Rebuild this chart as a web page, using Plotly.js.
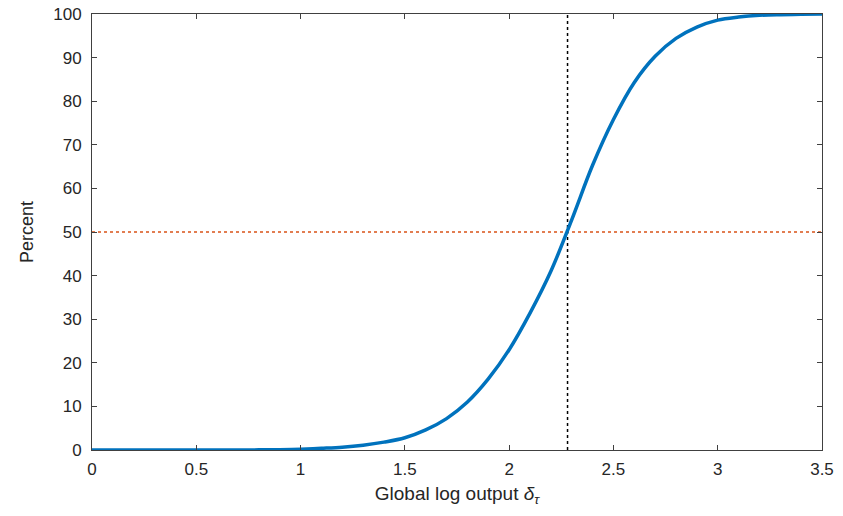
<!DOCTYPE html>
<html>
<head>
<meta charset="utf-8">
<script src="https://cdn.plot.ly/plotly-3.0.1.min.js"></script>
<style>html,body{margin:0;padding:0;background:#fff;}#chart{width:843px;height:516px;}</style>
</head>
<body>
<div id="chart"></div>
<script>
// Data
const xValues = [0, 0.1, 0.2, 0.3, 0.4, 0.5, 0.6, 0.7, 0.8, 0.9, 1.0, 1.1, 1.2, 1.3, 1.4, 1.5, 1.6, 1.7, 1.8, 1.9, 2.0, 2.1, 2.2, 2.3, 2.4, 2.5, 2.6, 2.7, 2.8, 2.9, 3.0, 3.1, 3.2, 3.3, 3.4, 3.5];
const percentValues = [0, 0, 0, 0, 0, 0, 0, 0.01, 0.03, 0.08, 0.2, 0.4, 0.65, 1.1, 1.8, 2.8, 4.6, 7.2, 11, 16.3, 23, 31.4, 41, 52.8, 65.3, 75.8, 84.3, 90.3, 94.4, 97, 98.6, 99.3, 99.7, 99.85, 99.92, 100];
const medianX = 2.28;
const halfLevel = 50;
const xRange = [0, 3.5];
const yRange = [0, 100];
const xTicks = [0, 0.5, 1, 1.5, 2, 2.5, 3, 3.5];
const xTickText = ['0', '0.5', '1', '1.5', '2', '2.5', '3', '3.5'];
const yTicks = [0, 10, 20, 30, 40, 50, 60, 70, 80, 90, 100];

const traces = [
  {
    x: xRange, y: [halfLevel, halfLevel], mode: 'lines',
    line: {color: '#D95319', width: 1.5, dash: 'dot'}, hoverinfo: 'skip', showlegend: false
  },
  {
    x: [medianX, medianX], y: yRange, mode: 'lines',
    line: {color: '#000000', width: 1.5, dash: 'dot'}, hoverinfo: 'skip', showlegend: false
  },
  {
    x: xValues, y: percentValues, mode: 'lines',
    line: {color: '#0072BD', width: 3.5, shape: 'spline', smoothing: 1}, showlegend: false
  }
];

const axisCommon = {
  showgrid: false, zeroline: false,
  showline: true, linecolor: '#404040', linewidth: 1,
  mirror: 'ticks', ticks: 'inside', ticklen: 5, tickcolor: '#404040', tickwidth: 1,
  tickfont: {family: 'Liberation Sans, Arial, sans-serif', size: 17, color: '#262626'}
};

const layout = {
  width: 843, height: 516,
  margin: {l: 92, r: 21, t: 14, b: 66},
  paper_bgcolor: '#ffffff', plot_bgcolor: '#ffffff',
  showlegend: false,
  xaxis: Object.assign({}, axisCommon, {
    range: xRange, tickvals: xTicks, ticktext: xTickText,
    ticklabelstandoff: 4,
    title: {text: 'Global log output <i>δ</i><sub><i>τ</i></sub>', standoff: 8,
            font: {family: 'Liberation Sans, Arial, sans-serif', size: 19, color: '#262626'}}
  }),
  yaxis: Object.assign({}, axisCommon, {
    range: yRange, tickvals: yTicks,
    ticklabelstandoff: 6,
    title: {text: 'Percent', standoff: 14,
            font: {family: 'Liberation Sans, Arial, sans-serif', size: 18, color: '#262626'}}
  })
};

Plotly.newPlot('chart', traces, layout, {staticPlot: true, displayModeBar: false});
</script>
</body>
</html>
